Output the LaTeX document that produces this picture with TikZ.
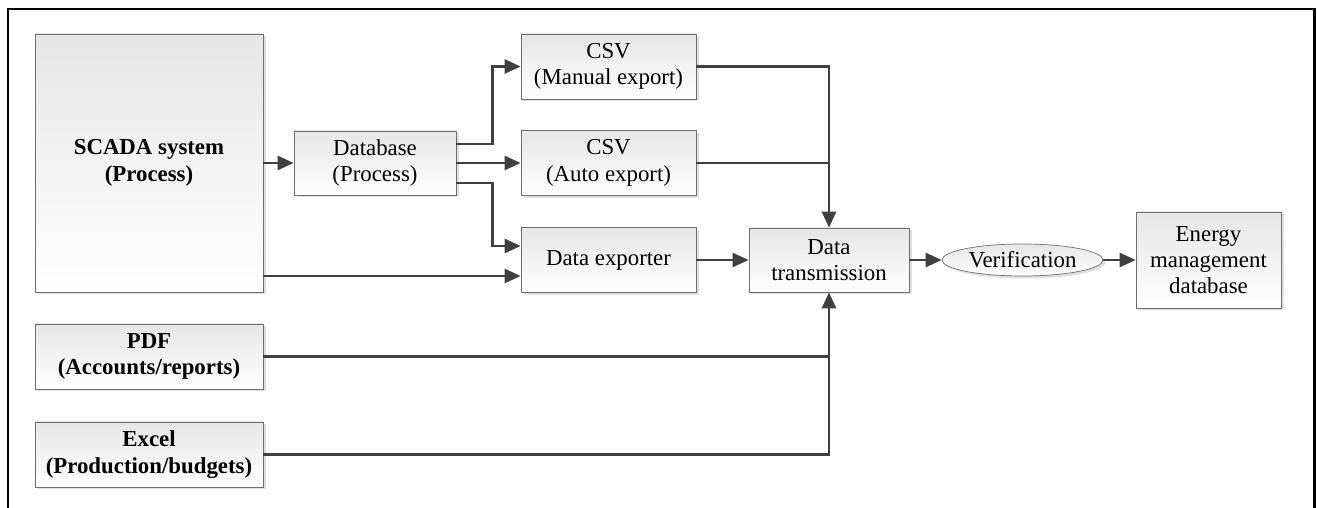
\documentclass[tikz,border=0pt]{standalone}
\usepackage{fontspec}
\setmainfont{Liberation Serif}
\usetikzlibrary{arrows.meta,shapes.geometric,shadows}
\definecolor{WireGray}{HTML}{404040}
\definecolor{EdgeGray}{HTML}{6E6E6E}
\definecolor{FillGray}{HTML}{E6E6E6}

\begin{document}
\begin{tikzpicture}[
    every node/.style={font=\fontsize{13}{15}\selectfont},
    bold/.style={font=\fontsize{13}{15}\selectfont\bfseries},
    box/.style={draw=EdgeGray, top color=FillGray, bottom color=white,
                align=center, inner sep=0pt,
                drop shadow={shadow xshift=0.05cm, shadow yshift=-0.05cm, opacity=0.25}},
    wire/.style={draw=WireGray, line width=1.5pt},
    arr/.style={wire, -{Triangle[length=0.32cm, width=0.28cm]}}]
  \useasboundingbox (0,0) rectangle (26.34,10.16);
  \draw[line width=1.7pt] (0.16,0) |- (26.28,9.98) -- (26.28,0);

  % sources
  \node[box, bold, minimum width=4.56cm, minimum height=5.16cm] (scada) at (2.98,6.90) {SCADA system\\(Process)};
  \foreach \name/\txt/\y in {pdf/{PDF\\(Accounts/reports)}/3.03, excel/{Excel\\(Production/budgets)}/1.07} {
    \node[box, bold, minimum width=4.56cm, minimum height=1.3cm] (\name) at (2.98,\y) {\txt};
  }
  \node[box, minimum width=3.24cm, minimum height=1.28cm] (db) at (7.50,6.90) {Database\\(Process)};

  % exports
  \foreach \name/\txt/\y in {csvm/{CSV\\(Manual export)}/8.83, csva/{CSV\\(Auto export)}/6.90, exp/{Data exporter}/4.96} {
    \node[box, minimum width=3.5cm, minimum height=1.3cm] (\name) at (12.17,\y) {\txt};
  }

  \node[box, minimum width=3.2cm, minimum height=1.28cm] (dt) at (16.58,4.96) {Data\\transmission};
  \node[box, ellipse, minimum width=3.22cm, minimum height=0.64cm] (verif) at (20.45,4.96) {Verification};
  \node[box, minimum width=2.9cm, minimum height=1.92cm] (emdb) at (24.17,4.96) {Energy\\management\\database};

  % connectors
  \draw[arr] (scada) -- (db);
  \draw[arr] ([yshift=0.38cm]db.east) -- ++(0.72,0) |- (csvm.west);
  \draw[arr] (db) -- (csva);
  \draw[arr] ([yshift=-0.40cm]db.east) -- ++(0.72,0) |- ([yshift=0.28cm]exp.west);
  \coordinate (expin) at ([yshift=-0.32cm]exp.west);
  \draw[arr] (scada.east |- expin) -- (expin);
  \draw[arr] (csvm.east) -| (dt.north);
  \draw[wire] (csva.east) -- (csva.east -| dt.north);
  \draw[arr] (exp) -- (dt);
  \draw[wire] (pdf.east) -- (pdf.east -| dt.south);
  \draw[arr] (excel.east) -| (dt.south);
  \draw[arr] (dt) -- (verif);
  \draw[arr] (verif) -- (emdb);
\end{tikzpicture}
\end{document}
